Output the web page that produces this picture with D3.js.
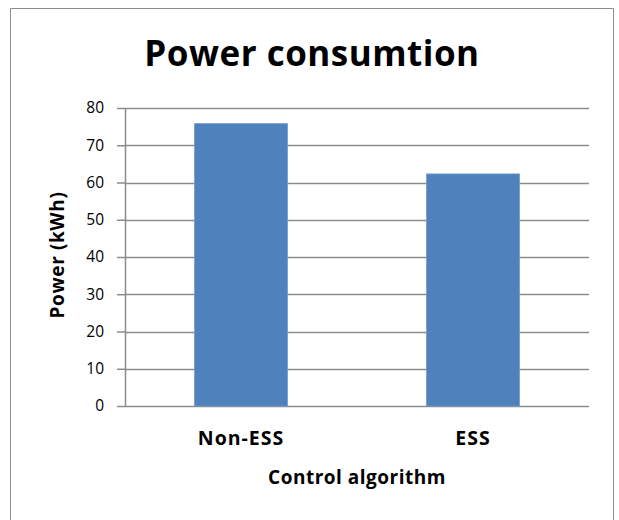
<!DOCTYPE html>
<html>
<head>
<meta charset="utf-8">
<script src="https://cdn.jsdelivr.net/npm/d3@7"></script>
<style>
  body { margin: 0; background: #fff; }
  text { font-family: "Open Sans", Lato, sans-serif; font-variant-ligatures: none; }
</style>
</head>
<body>
<svg id="chart"></svg>
<script>
const categories = ["Non-ESS", "ESS"];
const values = [75.8, 62.3];
const yTicks = [0, 10, 20, 30, 40, 50, 60, 70, 80];

const width = 619, height = 520;
const margin = { top: 108, right: 30, bottom: 114, left: 125 };
const innerWidth = width - margin.left - margin.right;
const innerHeight = height - margin.top - margin.bottom;

const svg = d3.select("#chart")
  .attr("width", width)
  .attr("height", height);

// outer frame (bottom edge runs past the picture)
svg.append("path")
  .attr("d", `M10.5,${height} V8.5 H613.5 V${height}`)
  .attr("fill", "none")
  .attr("stroke", "#8c8c8c");

const g = svg.append("g")
  .attr("transform", `translate(${margin.left},${margin.top})`);

const x = d3.scaleBand()
  .domain(categories)
  .range([0, innerWidth])
  .paddingInner(0.6)
  .paddingOuter(0.3);

const y = d3.scaleLinear()
  .domain([0, 80])
  .range([innerHeight, 0]);

// gridlines + y axis
const yAxis = g.append("g")
  .call(d3.axisLeft(y).tickValues(yTicks).tickSize(8).tickPadding(13));
yAxis.select(".domain").remove();
yAxis.selectAll(".tick line")
  .attr("stroke", "#8c8c8c")
  .attr("stroke-width", 1.5);
yAxis.selectAll(".tick text")
  .attr("font-size", 15.5)
  .attr("fill", "#000");

g.append("g")
  .selectAll("line")
  .data(yTicks)
  .join("line")
  .attr("x1", 0)
  .attr("x2", innerWidth)
  .attr("y1", d => Math.round(y(d)) + 0.5)
  .attr("y2", d => Math.round(y(d)) + 0.5)
  .attr("stroke", "#8c8c8c")
  .attr("stroke-width", 1.5);

g.append("line")
  .attr("x1", 0.5).attr("x2", 0.5)
  .attr("y1", 0).attr("y2", innerHeight)
  .attr("stroke", "#8c8c8c")
  .attr("stroke-width", 1.5);

// bars
g.append("g")
  .selectAll("rect")
  .data(values)
  .join("rect")
  .attr("x", (d, i) => x(categories[i]))
  .attr("y", d => y(d))
  .attr("width", x.bandwidth())
  .attr("height", d => innerHeight - y(d))
  .attr("fill", "#4f81bd")
  .attr("stroke", "#6f97cb")
  .attr("stroke-width", 0.8);

// x axis labels
const xAxis = g.append("g")
  .attr("transform", `translate(0,${innerHeight})`)
  .call(d3.axisBottom(x).tickSize(0).tickPadding(25));
xAxis.select(".domain").remove();
xAxis.selectAll(".tick text")
  .attr("font-size", 19.5)
  .attr("letter-spacing", 1)
  .attr("font-weight", "bold")
  .attr("fill", "#000");

// titles
svg.append("text")
  .attr("x", 312)
  .attr("y", 66)
  .attr("text-anchor", "middle")
  .attr("font-size", 35)
  .attr("letter-spacing", 0.5)
  .attr("font-weight", "bold")
  .text("Power consumtion");

svg.append("text")
  .attr("x", margin.left + innerWidth / 2)
  .attr("y", 484)
  .attr("text-anchor", "middle")
  .attr("font-size", 19)
  .attr("letter-spacing", 0.5)
  .attr("font-weight", "bold")
  .text("Control algorithm");

svg.append("text")
  .attr("transform", "translate(64,255) rotate(-90)")
  .attr("text-anchor", "middle")
  .attr("font-size", 19)
  .attr("letter-spacing", 0.6)
  .attr("font-weight", "bold")
  .text("Power (kWh)");
</script>
</body>
</html>
